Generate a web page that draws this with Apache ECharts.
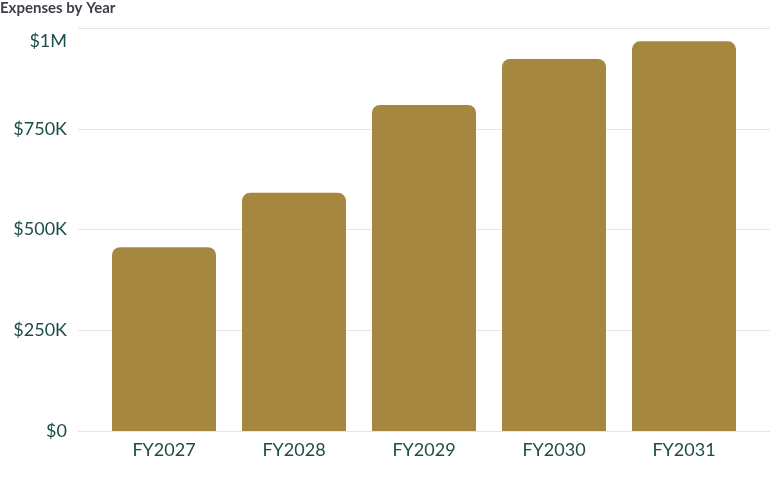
<!DOCTYPE html>
<html>
<head>
<meta charset="utf-8">
<style>
  html, body { margin: 0; padding: 0; background: #fff; }
  #chart { width: 770px; height: 477px; }
</style>
<script src="https://cdn.jsdelivr.net/npm/echarts@6/dist/echarts.min.js"></script>
</head>
<body>
<div id="chart"></div>
<script>
'use strict';

// Data
const years = ['FY2027', 'FY2028', 'FY2029', 'FY2030', 'FY2031'];
const expenses = [456000, 591000, 809000, 923000, 967000];
const yTicks = [0, 250000, 500000, 750000, 1000000];
const yTickLabels = ['$0', '$250K', '$500K', '$750K', '$1M'];

const labelFont = 'Lato, "Noto Sans", sans-serif';
const tealText = '#1d4d4a';

const chart = echarts.init(document.getElementById('chart'));

// top label sits a bit below its gridline in the original
const tickLabel = (value) => {
    const idx = yTicks.indexOf(value);
    if (idx < 0) return '';
    if (idx === yTicks.length - 1) return '{top|' + yTickLabels[idx] + '}';
    return yTickLabels[idx];
};

chart.setOption({
    animation: false,
    title: {
        text: 'Expenses by Year',
        left: 0,
        top: 1,
        padding: 0,
        textStyle: {
            fontFamily: labelFont,
            fontSize: 15,
            fontWeight: 'bold',
            color: '#3b3f4a'
        }
    },
    // background grid carries the gridlines across the full width
    grid: [
        { left: 78, right: 0, top: 28, bottom: 46 },
        { left: 99, right: 21, top: 28, bottom: 46 }
    ],
    xAxis: [
        { gridIndex: 0, type: 'value', min: 0, max: 1, show: false },
        {
            gridIndex: 1,
            type: 'category',
            data: years,
            axisLine: { show: false },
            axisTick: { show: false },
            axisLabel: {
                margin: 10,
                fontFamily: labelFont,
                fontSize: 18,
                color: tealText
            }
        }
    ],
    yAxis: [
        {
            gridIndex: 0,
            type: 'value',
            min: 0,
            max: 1000000,
            interval: 250000,
            axisLine: { show: false },
            axisTick: { show: false },
            axisLabel: {
                margin: 11,
                fontFamily: labelFont,
                fontSize: 18,
                color: tealText,
                formatter: tickLabel,
                rich: {
                    top: {
                        fontFamily: labelFont,
                        fontSize: 18,
                        color: tealText,
                        padding: [27, 0, 0, 0]
                    }
                }
            },
            splitLine: { lineStyle: { color: '#e6e6e6', width: 1 } }
        },
        {
            gridIndex: 1,
            type: 'value',
            min: 0,
            max: 1000000,
            interval: 250000,
            show: false,
            splitLine: { show: false }
        }
    ],
    series: [
        {
            name: 'Expenses',
            type: 'bar',
            xAxisIndex: 1,
            yAxisIndex: 1,
            data: expenses,
            barWidth: '80%',
            itemStyle: {
                color: '#a6873f',
                borderRadius: [8, 8, 0, 0]
            }
        }
    ]
});
</script>
</body>
</html>
